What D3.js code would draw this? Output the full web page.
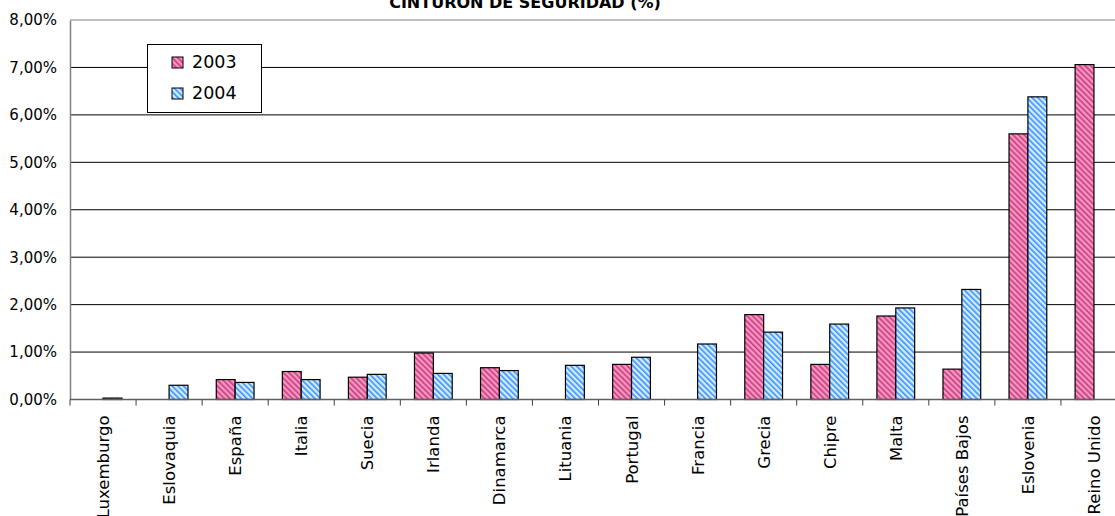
<!DOCTYPE html>
<html>
<head>
<meta charset="utf-8">
<script src="https://cdn.jsdelivr.net/npm/d3@7"></script>
<style>
  html, body { margin: 0; padding: 0; background: #fff; }
  svg { display: block; }
  text { font-family: "DejaVu Sans", sans-serif; fill: #000; }
</style>
</head>
<body>
<svg id="chart" width="1115" height="516"></svg>
<script>
// Countries in display order
const categories = ["Luxemburgo", "Eslovaquia", "España", "Italia", "Suecia", "Irlanda",
  "Dinamarca", "Lituania", "Portugal", "Francia", "Grecia", "Chipre", "Malta",
  "Países Bajos", "Eslovenia", "Reino Unido"];

const seriesNames = ["2003", "2004"];

// Percentages per country (null = no data)
const values2003 = [null, null, 0.42, 0.59, 0.47, 0.98, 0.67, null, 0.74, null, 1.79, 0.74, 1.76, 0.64, 5.60, 7.06];
const values2004 = [0.03, 0.30, 0.36, 0.42, 0.53, 0.55, 0.61, 0.72, 0.89, 1.17, 1.42, 1.59, 1.93, 2.32, 6.38, null];

const yTicks = [0, 1, 2, 3, 4, 5, 6, 7, 8];
const titleText = "CINTURÓN DE SEGURIDAD (%)";

const svg = d3.select("#chart");
const W = 1115, H = 516;
const plot = { left: 70, top: 20, right: 1127, bottom: 399.5 };

// Hatched fills for the two series
const defs = svg.append("defs");
function hatch(id, bg, stripe) {
  const p = defs.append("pattern")
    .attr("id", id)
    .attr("patternUnits", "userSpaceOnUse")
    .attr("width", 4).attr("height", 4)
    .attr("patternTransform", "rotate(-45)");
  p.append("rect").attr("width", 4).attr("height", 4).attr("fill", bg);
  p.append("rect").attr("width", 1.6).attr("height", 4).attr("fill", stripe);
}
hatch("hatch2003", "#ff94c4", "#c23f7c");
hatch("hatch2004", "#cdeeff", "#3f8cff");
const fills = { "2003": "url(#hatch2003)", "2004": "url(#hatch2004)" };

const x0 = d3.scaleBand().domain(categories).range([plot.left, plot.right]).paddingInner(0).paddingOuter(0);
const bw = x0.bandwidth();
// Excel-style gap: bars take 2/(2+1.5) of the band
const x1 = d3.scaleBand().domain(seriesNames)
  .range([bw * 0.75 / 3.5, bw - bw * 0.75 / 3.5]).padding(0);
const y = d3.scaleLinear().domain([0, 8]).range([plot.bottom, plot.top]);

// Gridlines
svg.append("g").selectAll("line").data(yTicks.filter(t => t > 0)).join("line")
  .attr("x1", plot.left).attr("x2", W)
  .attr("y1", d => y(d)).attr("y2", d => y(d))
  .attr("stroke", d => d === 8 ? "#808080" : "#000").attr("stroke-width", 1);

// Bars
const rows = categories.map((c, i) => ({ c, v: { "2003": values2003[i], "2004": values2004[i] } }));
const g = svg.append("g");
rows.forEach(r => {
  seriesNames.forEach(s => {
    const v = r.v[s];
    if (v == null) return;
    g.append("rect")
      .attr("x", x0(r.c) + x1(s))
      .attr("y", y(v))
      .attr("width", x1.bandwidth())
      .attr("height", y(0) - y(v))
      .attr("fill", fills[s])
      .attr("stroke", "#000").attr("stroke-width", 1.2);
  });
});

// Y axis
const yAxis = d3.axisLeft(y).tickValues(yTicks).tickSize(0).tickPadding(13)
  .tickFormat(d => d3.format(".2f")(d).replace(".", ",") + "%");
const ya = svg.append("g").attr("transform", `translate(${plot.left},0)`).call(yAxis);
ya.select(".domain").attr("stroke", "#808080").attr("stroke-width", 1.5);
ya.selectAll("text").style("font-size", "15px").style("font-family", "DejaVu Sans, sans-serif").attr("fill", "#000");

// X axis with ticks at band boundaries
const xa = svg.append("g").attr("transform", `translate(0,${plot.bottom})`);
xa.append("line").attr("x1", plot.left).attr("x2", W).attr("y1", 0).attr("y2", 0)
  .attr("stroke", "#606060").attr("stroke-width", 1.5);
xa.selectAll("line.tick").data(categories.map((c, i) => i)).join("line")
  .attr("class", "tick")
  .attr("x1", i => x0(categories[i])).attr("x2", i => x0(categories[i]))
  .attr("y1", 0).attr("y2", 6)
  .attr("stroke", "#404040").attr("stroke-width", 1);
xa.selectAll("text").data(categories).join("text")
  .attr("transform", d => `translate(${x0(d) + bw / 2 + 6},16) rotate(-90)`)
  .attr("text-anchor", "end")
  .style("font-size", "16.5px")
  .text(d => d);

// Title
svg.append("text").attr("x", 525).attr("y", 8)
  .attr("text-anchor", "middle")
  .style("font-size", "16px").style("font-weight", "bold")
  .text(titleText);

// Legend
const lg = svg.append("g");
lg.append("rect").attr("x", 147.5).attr("y", 44.5).attr("width", 114).attr("height", 68)
  .attr("fill", "#fff").attr("stroke", "#000").attr("stroke-width", 1);
seriesNames.forEach((s, i) => {
  const yy = 57 + i * 31;
  lg.append("rect").attr("x", 172).attr("y", yy).attr("width", 11).attr("height", 11)
    .attr("fill", fills[s]).attr("stroke", "#000").attr("stroke-width", 1);
  lg.append("text").attr("x", 192).attr("y", yy + 11)
    .style("font-size", "17.5px").text(s);
});
</script>
</body>
</html>
